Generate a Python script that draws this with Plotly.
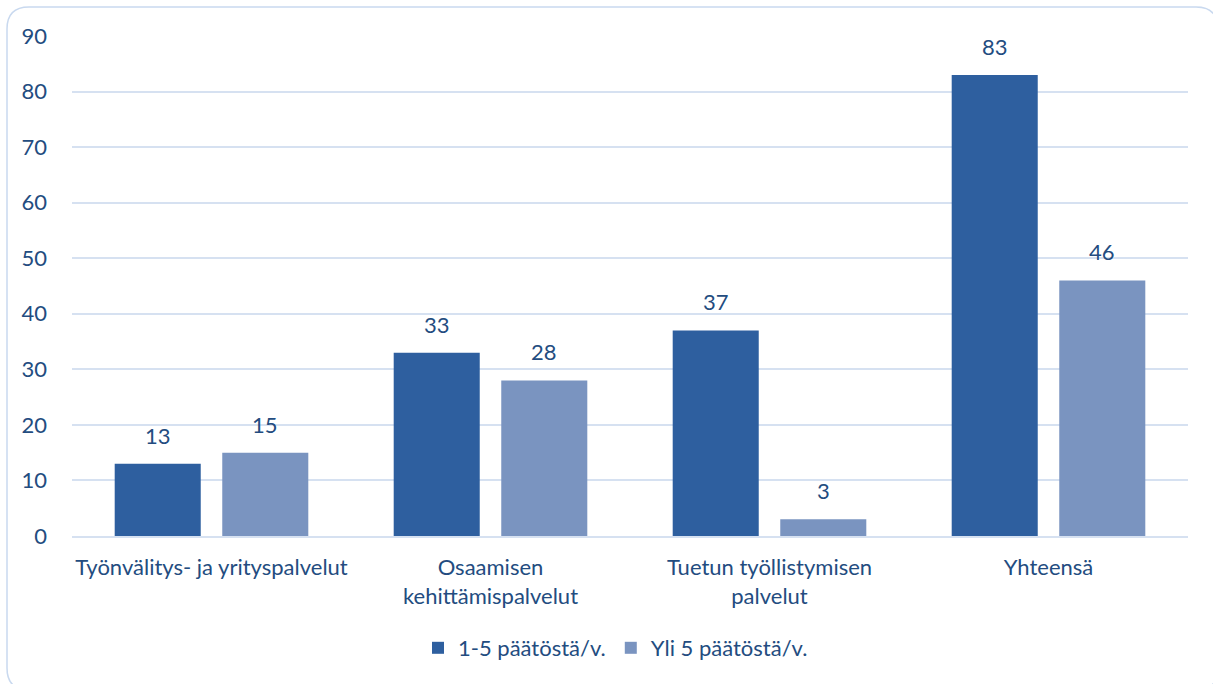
import plotly.graph_objects as go

categories = ["Työnvälitys- ja yrityspalvelut", "Osaamisen<br>kehittämispalvelut",
              "Tuetun työllistymisen<br>palvelut", "Yhteensä"]
series_names = ["1-5 päätöstä/v.", "Yli 5 päätöstä/v."]
values_small = [13, 33, 37, 83]
values_large = [15, 28, 3, 46]
y_ticks = [0, 10, 20, 30, 40, 50, 60, 70, 80, 90]

W, H = 1213, 684
ML, MR, MT, MB = 72, 25, 36, 148
TEXT = "#234C80"
FONT = "Lato"
FS = 22
BARGAP, GROUPGAP = 0.229, 0.2

fig = go.Figure()
fig.add_bar(x=categories, y=values_small, name=series_names[0],
            marker=dict(color="#2E5F9F", line=dict(width=0)))
fig.add_bar(x=categories, y=values_large, name=series_names[1],
            marker=dict(color="#7A94C0", line=dict(width=0)))

# value labels above each bar, shifted sideways to the bar's slot in the group
pw, ph = W - ML - MR, H - MT - MB
slot = pw / len(categories) * (1 - BARGAP) / 2
annotations = []
for vals, shift in ((values_small, -slot / 2), (values_large, slot / 2)):
    for c, v in zip(categories, vals):
        annotations.append(dict(x=c, y=v, text=str(v), showarrow=False,
                                xshift=shift, yanchor="bottom", yshift=13,
                                font=dict(size=FS, color=TEXT, family=FONT)))

# rounded frame around the chart, converted from pixel to paper units
def px(x):
    return (x - ML) / pw
def py(y):
    return (H - MB - y) / ph
x0, x1, y0, y1, r = 7, 1218, 7, 690, 22
frame = (f"M {px(x0 + r)} {py(y0)} L {px(x1 - r)} {py(y0)} "
         f"Q {px(x1)} {py(y0)} {px(x1)} {py(y0 + r)} "
         f"L {px(x1)} {py(y1 - r)} Q {px(x1)} {py(y1)} {px(x1 - r)} {py(y1)} "
         f"L {px(x0 + r)} {py(y1)} Q {px(x0)} {py(y1)} {px(x0)} {py(y1 - r)} "
         f"L {px(x0)} {py(y0 + r)} Q {px(x0)} {py(y0)} {px(x0 + r)} {py(y0)} Z")

fig.update_layout(
    width=W, height=H,
    margin=dict(l=ML, r=MR, t=MT, b=MB),
    paper_bgcolor="white", plot_bgcolor="white",
    barmode="group", bargap=BARGAP, bargroupgap=GROUPGAP,
    font=dict(family=FONT, size=FS, color=TEXT),
    showlegend=True,
    legend=dict(orientation="h", x=0.487, xanchor="center", y=-0.224, yanchor="middle",
                font=dict(size=FS, color=TEXT, family=FONT), itemwidth=30,
                traceorder="normal"),
    annotations=annotations,
    shapes=[dict(type="path", path=frame, xref="paper", yref="paper",
                 line=dict(color="#C9D9EF", width=1.5), layer="below")],
)
fig.update_yaxes(range=[0, 90], tickvals=y_ticks, showgrid=True,
                 gridcolor="#D6E1F1", gridwidth=1.5, zeroline=False,
                 showline=False, ticks="", ticklabelstandoff=24,
                 tickfont=dict(size=FS, color=TEXT, family=FONT))
fig.update_xaxes(showline=True, linecolor="#D6E1F1", linewidth=1.5, ticks="",
                 ticklabelstandoff=11,
                 tickfont=dict(size=FS, color=TEXT, family=FONT))

fig.write_html("out.html")
